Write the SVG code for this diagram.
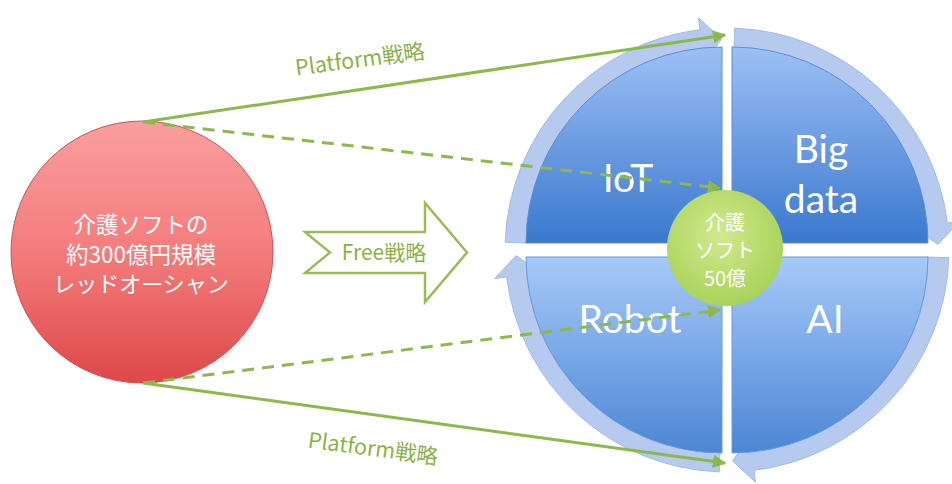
<svg xmlns="http://www.w3.org/2000/svg" width="952" height="484" viewBox="0 0 952 484">
<style>
.lat{font-family:Lato,"Open Sans","Liberation Sans",sans-serif;fill:#fff;text-anchor:middle}
.jp{font-family:"Noto Sans CJK JP","Noto Sans",sans-serif;text-anchor:middle}
.wt{fill:#fff}
.gt{fill:#8DB04A}
.band{fill:#B6CAF0;stroke:#A3BAE8;stroke-width:1}
.conn{stroke:#8DB84B;stroke-width:3;fill:none}
.dash{stroke-dasharray:12 8}
</style>
<defs>
<linearGradient id="gTop" x1="0" y1="0" x2="0" y2="1">
<stop offset="0" stop-color="#9CC0F4"/><stop offset="1" stop-color="#3A78CE"/>
</linearGradient>
<linearGradient id="gBot" x1="0" y1="0" x2="0" y2="1">
<stop offset="0" stop-color="#A6C9F8"/><stop offset="1" stop-color="#4C86D5"/>
</linearGradient>
<linearGradient id="gRed" x1="0" y1="0" x2="0" y2="1">
<stop offset="0" stop-color="#FB9E9E"/><stop offset="0.5" stop-color="#F47C7C"/><stop offset="1" stop-color="#DE4848"/>
</linearGradient>
<radialGradient id="gGreen" cx="0.45" cy="0.4" r="0.6">
<stop offset="0" stop-color="#D2EA8E"/><stop offset="1" stop-color="#A9D25A"/>
</radialGradient>
<marker id="ah" viewBox="0 0 10 10" refX="9" refY="5" markerWidth="4.5" markerHeight="4.5" orient="auto" markerUnits="strokeWidth">
<path d="M0,0 L10,5 L0,10 Z" fill="#8DB84B"/>
</marker>
<path id="arcArrow" d="M948.86,257.75 A222,222 0 0 1 754.05,470.35 L755.52,482.26 L732.52,460.93 L749.91,436.6 L751.37,448.51 A200,200 0 0 0 926.88,256.98 Z"/>
</defs>

<g id="cycle">
<use href="#arcArrow" class="band"/>
<use href="#arcArrow" class="band" transform="rotate(90 727 250)"/>
<use href="#arcArrow" class="band" transform="rotate(180 727 250)"/>
<use href="#arcArrow" class="band" transform="rotate(270 727 250)"/>
</g>

<g id="iot">
<path d="M722,243 L526,243 A196,196 0 0 1 722,47 Z" fill="url(#gTop)" stroke="#5F8DD3" stroke-width="1"/>
<text class="lat" x="628" y="192" font-size="39">IoT</text>
</g>
<g id="bigdata">
<path d="M732,243 L732,47 A196,196 0 0 1 928,243 Z" fill="url(#gTop)" stroke="#5F8DD3" stroke-width="1"/>
<text class="lat" x="821" y="163" font-size="39">Big</text>
<text class="lat" x="821" y="213" font-size="39">data</text>
</g>
<g id="robot">
<path d="M722,257 L722,453 A196,196 0 0 1 526,257 Z" fill="url(#gBot)" stroke="#6A98DA" stroke-width="1"/>
<text class="lat" x="630" y="333" font-size="39">Robot</text>
</g>
<g id="ai">
<path d="M732,257 L928,257 A196,196 0 0 1 732,453 Z" fill="url(#gBot)" stroke="#6A98DA" stroke-width="1"/>
<text class="lat" x="825" y="333" font-size="39">AI</text>
</g>

<g id="red-ocean">
<circle cx="142" cy="252" r="131" fill="url(#gRed)" stroke="#C95454" stroke-width="1"/>
<text class="jp wt" x="141" y="233" font-size="22.5">介護ソフトの</text>
<text class="jp wt" x="141" y="263" font-size="22.5">約300億円規模</text>
<text class="jp wt" x="141" y="292" font-size="22">レッドオーシャン</text>
</g>

<g id="free">
<path d="M305,232 L425,232 L425,203 L467,252.5 L425,302 L425,273 L305,273 L330,252.5 Z" fill="#fff" stroke="#9BBB59" stroke-width="2.5"/>
<text class="jp gt" x="384" y="259.5" font-size="21">Free戦略</text>
</g>

<g id="connectors">
<line class="conn" x1="143" y1="122" x2="725" y2="35" marker-end="url(#ah)"/>
<line class="conn dash" x1="143" y1="122" x2="720" y2="188" marker-end="url(#ah)"/>
<line class="conn dash" x1="143" y1="383" x2="720" y2="310" marker-end="url(#ah)"/>
<line class="conn" x1="143" y1="383" x2="725" y2="463" marker-end="url(#ah)"/>
<text class="jp gt" x="360" y="67" font-size="21.5" transform="rotate(-7.5 360 60)">Platform戦略</text>
<text class="jp gt" x="373" y="456" font-size="21.5" transform="rotate(7.5 373 449)">Platform戦略</text>
</g>

<g id="core">
<circle cx="725" cy="248" r="58" fill="url(#gGreen)"/>
<text class="jp wt" x="725" y="230" font-size="20">介護</text>
<text class="jp wt" x="725" y="258" font-size="20">ソフト</text>
<text class="jp wt" x="725" y="286" font-size="20">50億</text>
</g>
</svg>
